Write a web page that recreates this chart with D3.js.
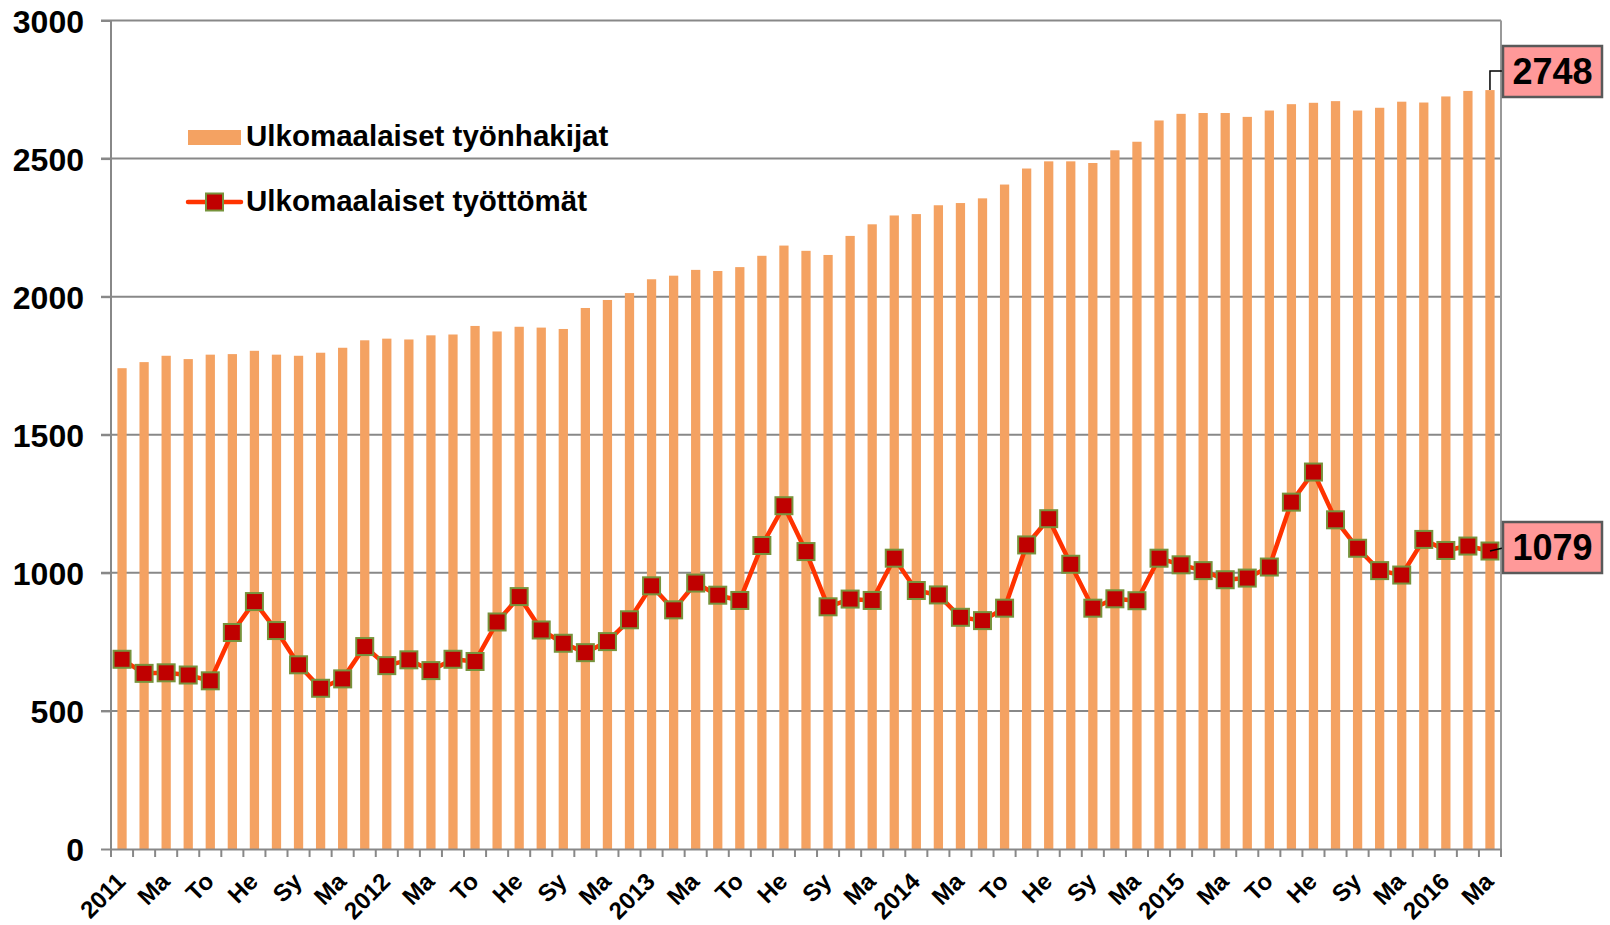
<!DOCTYPE html>
<html>
<head>
<meta charset="utf-8">
<script src="https://cdn.jsdelivr.net/npm/d3@7"></script>
<style>
  body { margin: 0; background: #fff; }
  svg text { font-family: Arial, "Liberation Sans", sans-serif; font-weight: bold; fill: #000; }
</style>
</head>
<body>
<div id="chart"></div>
<script>
// monthly data, Jan 2011 - Mar 2016
const startYear = 2011;
const monthAbbr = ["Ta", "He", "Ma", "Hu", "To", "Ke", "He", "El", "Sy", "Lo", "Ma", "Jo"];

const tyonhakijat = [
  1741, 1763, 1786, 1774, 1790, 1792, 1804, 1790, 1786, 1797, 1815, 1842,
  1848, 1845, 1860, 1863, 1894, 1874, 1891, 1888, 1883, 1959, 1988, 2013,
  2063, 2076, 2097, 2093, 2107, 2148, 2185, 2166, 2151, 2220, 2262, 2294,
  2299, 2331, 2339, 2356, 2406, 2464, 2490, 2490, 2484, 2530, 2561, 2638,
  2662, 2665, 2665, 2651, 2674, 2697, 2702, 2708, 2674, 2684, 2706, 2703,
  2725, 2745, 2748
];

const tyottomat = [
  687, 636, 638, 630, 609, 784, 896, 791, 667, 582, 616, 733,
  664, 685, 646, 687, 679, 822, 914, 793, 745, 711, 751, 830,
  953, 866, 963, 919, 900, 1099, 1243, 1077, 877, 905, 900, 1053,
  936, 920, 839, 827, 872, 1101, 1196, 1031, 872, 906, 899, 1053,
  1029, 1008, 975, 981, 1021, 1256, 1365, 1192, 1089, 1008, 992, 1121,
  1081, 1097, 1079
];

const yTicks = [0, 500, 1000, 1500, 2000, 2500, 3000];
const seriesNames = ["Ulkomaalaiset työnhakijat", "Ulkomaalaiset työttömät"];

// category labels: year at January, otherwise month abbreviation
const categories = tyonhakijat.map((d, i) => {
  let m = i % 12;
  return m === 0 ? String(startYear + i / 12) : monthAbbr[m];
});

let width = 1610, height = 925;
let margin = { top: 20.5, right: 109, bottom: 76, left: 111 };

let svg = d3.select('#chart').append('svg')
  .attr('width', width)
  .attr('height', height);

let x = d3.scaleBand()
  .domain(d3.range(categories.length))
  .range([margin.left, width - margin.right])
  .padding(0);

let y = d3.scaleLinear()
  .domain([0, 3000])
  .range([height - margin.bottom, margin.top]);

let barW = x.bandwidth() * 0.42;
let cx = i => x(i) + x.bandwidth() / 2;

// grid lines
svg.append('g')
  .selectAll('line')
  .data(yTicks.filter(d => d > 0))
  .join('line')
  .attr('x1', margin.left - 10)
  .attr('x2', width - margin.right)
  .attr('y1', d => y(d))
  .attr('y2', d => y(d))
  .attr('stroke', '#888')
  .attr('stroke-width', 2);

// right border
svg.append('line')
  .attr('x1', width - margin.right).attr('x2', width - margin.right)
  .attr('y1', y(3000)).attr('y2', y(0) + 8)
  .attr('stroke', '#999').attr('stroke-width', 2);

// bars
svg.append('g')
  .selectAll('rect')
  .data(tyonhakijat)
  .join('rect')
  .attr('x', (d, i) => cx(i) - barW / 2)
  .attr('y', d => y(d))
  .attr('width', barW)
  .attr('height', d => y(0) - y(d))
  .attr('fill', '#F4A262');

// x axis
let xAxis = d3.axisBottom(x)
  .tickSize(0)
  .tickFormat('');
let gx = svg.append('g')
  .attr('transform', 'translate(0,' + y(0) + ')')
  .call(xAxis);
gx.select('.domain').attr('stroke', '#888').attr('stroke-width', 2);

// ticks on band edges
svg.append('g')
  .selectAll('line')
  .data(d3.range(categories.length + 1))
  .join('line')
  .attr('x1', i => margin.left + i * x.step())
  .attr('x2', i => margin.left + i * x.step())
  .attr('y1', y(0))
  .attr('y2', y(0) + 8)
  .attr('stroke', '#888')
  .attr('stroke-width', 2);

svg.append('g')
  .selectAll('text')
  .data(categories.map((c, i) => ({ c, i })).filter(d => d.i % 2 === 0))
  .join('text')
  .attr('text-anchor', 'end')
  .attr('font-size', 24)
  .attr('transform', d => 'translate(' + (cx(d.i) + 5) + ',' + (y(0) + 34) + ') rotate(-45)')
  .text(d => d.c);

// y axis
let yAxis = d3.axisLeft(y).tickValues(yTicks).tickFormat(d3.format('d'))
  .tickSize(10).tickPadding(17);
let gy = svg.append('g')
  .attr('transform', 'translate(' + margin.left + ',0)')
  .call(yAxis);
gy.select('.domain').attr('stroke', '#888').attr('stroke-width', 2)
  .attr('d', 'M0,' + y(3000) + 'V' + (y(0) + 8));
gy.selectAll('.tick line').attr('stroke', '#888').attr('stroke-width', 2);
gy.selectAll('.tick text')
  .attr('font-size', 32)
  .attr('font-family', 'Arial, "Liberation Sans", sans-serif')
  .attr('font-weight', 'bold')
  .attr('fill', '#000')
  .attr('dy', '0.36em');

// line series
let line = d3.line()
  .x((d, i) => cx(i))
  .y(d => y(d));

svg.append('path')
  .datum(tyottomat)
  .attr('d', line)
  .attr('fill', 'none')
  .attr('stroke', '#FF3300')
  .attr('stroke-width', 4.5)
  .attr('stroke-linejoin', 'round');

let mk = 17;
svg.append('g')
  .selectAll('rect')
  .data(tyottomat)
  .join('rect')
  .attr('x', (d, i) => cx(i) - mk / 2)
  .attr('y', d => y(d) - mk / 2)
  .attr('width', mk)
  .attr('height', mk)
  .attr('fill', '#C00000')
  .attr('stroke', '#77933C')
  .attr('stroke-width', 2);

// legend
let lg = svg.append('g');
lg.append('rect')
  .attr('x', 188).attr('y', 130).attr('width', 53).attr('height', 15)
  .attr('fill', '#F4A262');
lg.append('text')
  .attr('x', 246).attr('y', 146).attr('font-size', 29.5)
  .text(seriesNames[0]);
lg.append('line')
  .attr('x1', 188).attr('x2', 241).attr('y1', 202).attr('y2', 202)
  .attr('stroke', '#FF3300').attr('stroke-width', 4.5).attr('stroke-linecap', 'round');
lg.append('rect')
  .attr('x', 214.5 - mk / 2).attr('y', 202 - mk / 2).attr('width', mk).attr('height', mk)
  .attr('fill', '#C00000').attr('stroke', '#77933C').attr('stroke-width', 2);
lg.append('text')
  .attr('x', 246).attr('y', 211).attr('font-size', 29.5)
  .text(seriesNames[1]);

// value callouts for the last month
let last = tyonhakijat.length - 1;
function callout(value, boxY, leader) {
  let g = svg.append('g');
  g.append('path')
    .attr('d', leader)
    .attr('fill', 'none')
    .attr('stroke', '#000')
    .attr('stroke-width', 1.5);
  g.append('rect')
    .attr('x', 1503).attr('y', boxY).attr('width', 99).attr('height', 51)
    .attr('fill', '#FF9999').attr('stroke', '#595959').attr('stroke-width', 2.5);
  g.append('text')
    .attr('x', 1552.5).attr('y', boxY + 25.5).attr('dy', '0.36em')
    .attr('text-anchor', 'middle').attr('font-size', 36)
    .text(value);
}
callout(tyonhakijat[last], 46,
  'M' + cx(last) + ',' + y(tyonhakijat[last]) + 'V71H1503');
callout(tyottomat[last], 522,
  'M' + cx(last) + ',' + y(tyottomat[last]) + 'L1503,548');
</script>
</body>
</html>
